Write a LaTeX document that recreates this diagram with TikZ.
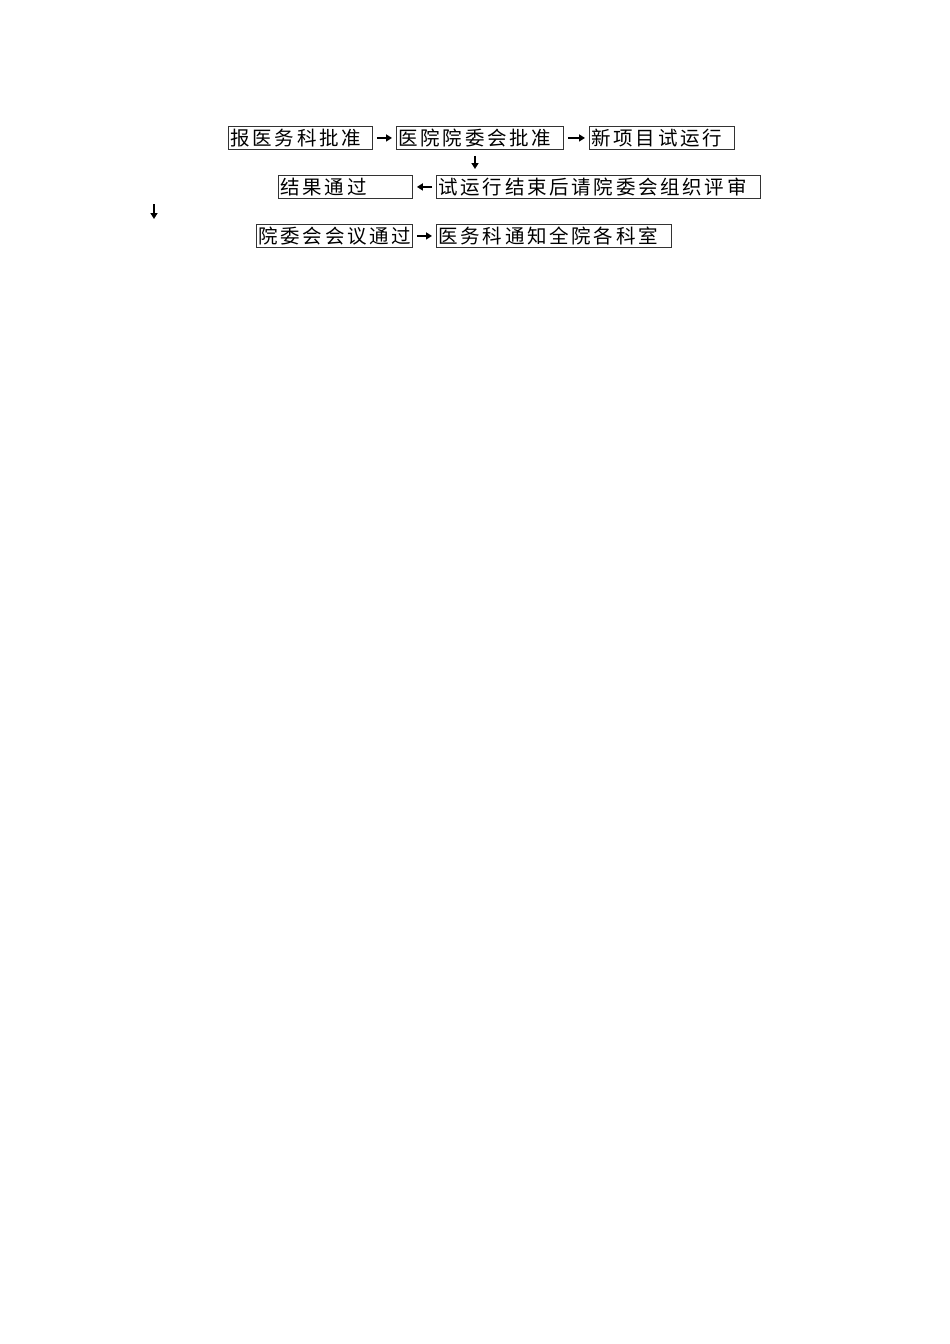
\documentclass[tikz,border=0pt]{standalone}
\usepackage{fontspec}
\newfontfamily\cjk{Noto Sans CJK SC}
\usetikzlibrary{arrows.meta}
\makeatletter
\def\sptext#1{\sptext@i#1\relax}
\def\sptext@i#1{\ifx#1\relax\else#1\kern2.7pt\expandafter\sptext@i\fi}
\makeatother
\tikzset{
  box/.style={draw=black!80, line width=0.9pt, inner xsep=2pt, inner ysep=0pt,
    anchor=north west, minimum height=23pt, text width=#1, align=left,
    font=\cjk\fontsize{19.5}{20}\selectfont},
  arr/.style={line width=1.7pt, -{Triangle[length=6pt,width=7pt]}, shorten <=4pt, shorten >=4pt}
}
\begin{document}
\begin{tikzpicture}[x=1pt,y=-1pt]
\useasboundingbox (0,0) rectangle (950,1344);
% row 1
\node[box=140pt] (b1) at (228,126) {\sptext{报医务科批准}};
\node[box=163pt] (b2) at (396,126) {\sptext{医院院委会批准}};
\node[box=141pt] (b3) at (589,126) {\sptext{新项目试运行}};
% row 2
\node[box=130pt] (b4) at (278,175) {\sptext{结果通过}};
\node[box=320pt] (b5) at (436,175) {\sptext{试运行结束后请院委会组织评审}};
% row 3
\node[box=152pt] (b6) at (256,224) {\sptext{院委会会议通过}};
\node[box=231pt] (b7) at (436,224) {\sptext{医务科通知全院各科室}};
% connectors
\draw[arr] (b1) -- (b2);
\draw[arr] (b2) -- (b3);
\coordinate (d1) at (475,0);
\draw[arr, shorten <=6pt, shorten >=6pt] (b2.south -| d1) -- (b5.north -| d1);
\draw[arr] (b5) -- (b4);
\coordinate (l1) at (154,204);
\coordinate (l2) at (154,219);
\draw[arr, shorten <=0pt, shorten >=0pt] (l1) -- (l2);
\draw[arr] (b6) -- (b7);
\end{tikzpicture}
\end{document}
